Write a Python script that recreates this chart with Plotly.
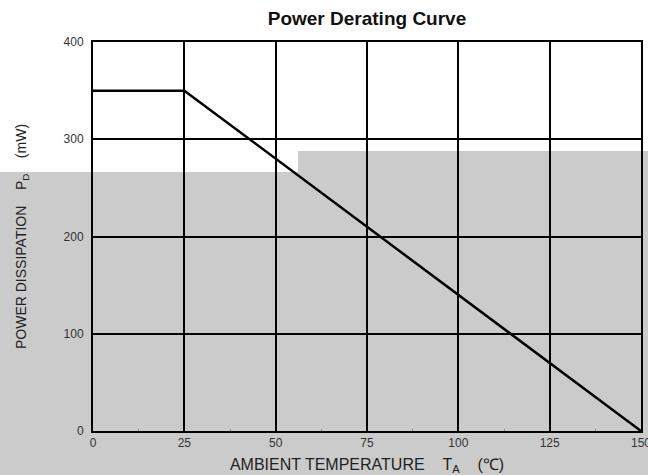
import plotly.graph_objects as go

# Data
temp_c = [0, 25, 150]
power_mw = [350, 350, 0]
x_ticks = [0, 25, 50, 75, 100, 125, 150]
y_ticks = [0, 100, 200, 300, 400]

W, H = 648, 475
L, R, T, B = 93, 7, 42, 44
pw, ph = W - L - R, H - T - B

def px_x(p):
    return (p - L) / pw

def px_y(p):
    return (H - B - p) / ph

gray = "#cbcbcb"

fig = go.Figure()
fig.add_trace(go.Scatter(
    x=temp_c, y=power_mw, mode="lines",
    line=dict(color="black", width=2.5),
    showlegend=False, hoverinfo="skip", cliponaxis=False,
))

shapes = [
    dict(type="rect", xref="paper", yref="paper",
         x0=px_x(-2), x1=px_x(298), y0=px_y(H + 2), y1=px_y(172),
         fillcolor=gray, line=dict(width=0), layer="below"),
    dict(type="rect", xref="paper", yref="paper",
         x0=px_x(298), x1=px_x(W + 2), y0=px_y(H + 2), y1=px_y(151),
         fillcolor=gray, line=dict(width=0), layer="below"),
]

fig.update_layout(
    width=W, height=H,
    margin=dict(l=L, r=R, t=T, b=B, pad=0, autoexpand=False),
    paper_bgcolor="white",
    plot_bgcolor="rgba(0,0,0,0)",
    shapes=shapes,
    title=dict(text="<b>Power Derating Curve</b>", xref="paper", x=0.5, xanchor="center",
               y=1 - 18 / H, yanchor="middle", automargin=False,
               font=dict(family="Arial, Liberation Sans", size=19, color="#111")),
    font=dict(family="Arial, Liberation Sans", color="#333"),
)

fig.update_xaxes(
    range=[0, 150], tickvals=x_ticks, ticktext=[str(v) for v in x_ticks],
    showgrid=True, gridcolor="black", gridwidth=2, automargin=False,
    showline=True, linecolor="black", linewidth=2, mirror=True,
    zeroline=False, ticks="", tickfont=dict(size=12, color="#333"),
    ticklabeloverflow="allow",
    title=dict(text="AMBIENT TEMPERATURE&nbsp;&nbsp;&nbsp;&nbsp;T<sub>A</sub>&nbsp;&nbsp;&nbsp;&nbsp;(℃)",
               font=dict(size=16, color="#222"), standoff=10),
    minor=dict(tickvals=[12.5, 37.5, 62.5, 87.5, 112.5, 137.5], ticks="inside",
               ticklen=2, tickcolor="#888", showgrid=False),
)
fig.update_yaxes(
    range=[0, 400], tickvals=y_ticks, ticktext=[str(v) for v in y_ticks],
    showgrid=True, gridcolor="black", gridwidth=2, automargin=False,
    showline=True, linecolor="black", linewidth=2, mirror=True,
    zeroline=False, ticks="", ticklabelstandoff=5,
    tickfont=dict(size=12, color="#333"),
    title=dict(text="POWER DISSIPATION&nbsp;&nbsp;&nbsp;&nbsp;P<sub>D</sub>&nbsp;&nbsp;&nbsp;&nbsp;(mW)",
               font=dict(size=14, color="#222"), standoff=34),
)

fig.write_html(
    "out.html",
    config={"displayModeBar": False},
    post_script="document.body.style.margin='0';document.body.style.overflow='hidden';",
)
